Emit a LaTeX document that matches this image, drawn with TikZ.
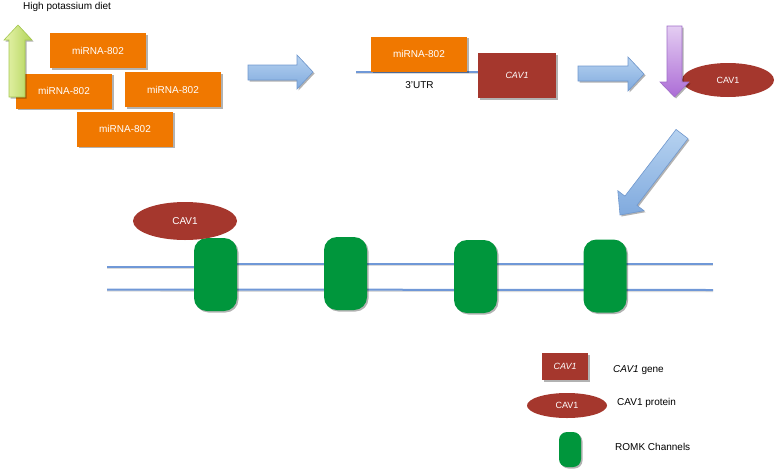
\documentclass[tikz,border=0pt]{standalone}
\usepackage{fontspec}
\setmainfont{Liberation Sans}
\usetikzlibrary{shapes.geometric,shadows}
\definecolor{orng}{RGB}{240,120,0}
\definecolor{cavred}{RGB}{165,55,45}
\definecolor{chgreen}{RGB}{0,150,60}
\definecolor{arrblueT}{RGB}{182,210,240}
\definecolor{arrblueB}{RGB}{128,170,222}
\definecolor{arrblueD}{RGB}{112,152,206}
\definecolor{memblue}{RGB}{112,152,215}
\definecolor{purpT}{RGB}{228,205,242}
\definecolor{purpB}{RGB}{172,108,214}
\definecolor{purpD}{RGB}{160,110,200}
\definecolor{grnL}{RGB}{232,244,175}
\definecolor{grnR}{RGB}{178,212,88}
\definecolor{grnD}{RGB}{165,200,80}
\tikzset{
  shad/.style={drop shadow={shadow xshift=1.5pt,shadow yshift=-1.5pt,opacity=.3,fill=black}},
  mirbox/.style={rectangle,fill=orng,text=white,minimum width=96pt,minimum height=35pt,inner sep=0pt,font=\fontsize{10}{12}\selectfont,shad},
  genebox/.style={rectangle,fill=cavred,text=white,inner sep=0pt,font=\fontsize{9}{11}\selectfont\itshape,shad},
  protein/.style={ellipse,fill=cavred,text=white,inner sep=0pt},
  channel/.style={rectangle,rounded corners=13pt,fill=chgreen,minimum width=43pt,minimum height=73pt,inner sep=0pt,shad},
  bluearrow/.style={draw=arrblueD,line width=0.6pt,top color=arrblueT,bottom color=arrblueB,shad},
  memline/.style={draw=memblue,line width=2pt,
    preaction={draw=black!35,opacity=.4,line width=2pt,transform canvas={yshift=-1.2pt}}},
  lbl/.style={font=\fontsize{10}{12}\selectfont,inner sep=0pt,anchor=west}
}
\begin{document}
\begin{tikzpicture}[x=1pt,y=-1pt]
\useasboundingbox (0,0) rectangle (778,474);

% title
\node[lbl] (diet) at (23,6.5) {High potassium diet};

% miRNA cluster
\node[mirbox] (m1) at (98,50.5) {miRNA-802};
\node[mirbox] (m2) at (64,91) {miRNA-802};
\node[mirbox] (m3) at (173,89.5) {miRNA-802};
\node[mirbox] (m4) at (125,129) {miRNA-802};

% green up arrow
\path[draw=grnD,line width=0.6pt,left color=grnL,right color=grnR,shad]
  (18,25) -- (32,40) -- (25,40) -- (25,97) -- (9,97) -- (9,40) -- (4,40) -- cycle;

% blue arrow 1
\path[bluearrow] (248,65) -- (297,65) -- (297,55) -- (313,72) -- (297,89) -- (297,80) -- (248,80) -- cycle;

% 3'UTR
\coordinate (utrL) at (356,72);
\node[genebox,minimum width=78pt,minimum height=45pt] (gene) at (517,75.5) {CAV1};
\draw[memline] (utrL) -- (gene.west |- utrL);
\node[mirbox] (m5) at (419,54) {miRNA-802};
\node[font=\fontsize{10}{12}\selectfont,inner sep=0pt] (utr) at (419.5,85) {3'UTR};

% blue arrow 2
\path[bluearrow] (578,66) -- (628,66) -- (628,57) -- (644,74) -- (628,91) -- (628,81) -- (578,81) -- cycle;

% protein top right
\node[protein,minimum width=92pt,minimum height=34pt,font=\fontsize{9}{11}\selectfont] (p1) at (728,80) {CAV1};
\path[draw=purpD,line width=0.6pt,top color=purpT,bottom color=purpB,shad]
  (667,26) -- (682,26) -- (682,82) -- (689,82) -- (674.5,97) -- (660,82) -- (667,82) -- cycle;

% diagonal arrow
\path[bluearrow] (687.96,138.56) -- (636.9,205.3) -- (644.0,210.7) -- (620,215)
  -- (617.8,190.7) -- (624.9,196.1) -- (676.04,129.44) -- cycle;

% membrane
\coordinate (t1) at (107,267);
\coordinate (t1r) at (237,264);
\coordinate (t2) at (713,264);
\coordinate (b1) at (107,289.5);
\coordinate (b2) at (713,290);
\draw[memline] (t1) -- (216,267);
\draw[memline] (t1r) -- (t2);
\draw[memline] (b1) -- (b2);

\node[channel] (c1) at (215.5,274.5) {};
\node[channel] (c2) at (345.5,273.5) {};
\node[channel] (c3) at (475.5,276.5) {};
\node[channel] (c4) at (605,276) {};

\node[protein,minimum width=104pt,minimum height=38pt,font=\fontsize{10}{12}\selectfont] (p2) at (185,221) {CAV1};

% legend
\node[genebox,minimum width=46pt,minimum height=27pt] (lg) at (565,366.5) {CAV1};
\node[lbl] (lgt) at (613,370) {\textit{CAV1} gene};
\node[protein,minimum width=80pt,minimum height=25pt,font=\fontsize{9}{11}\selectfont] (lp) at (567,405.5) {CAV1};
\node[lbl] (lpt) at (617,403) {CAV1 protein};
\node[channel,minimum width=22pt,minimum height=35pt,rounded corners=8pt] (lc) at (570,449.5) {};
\node[lbl] (lct) at (615,447) {ROMK Channels};
\end{tikzpicture}
\end{document}
